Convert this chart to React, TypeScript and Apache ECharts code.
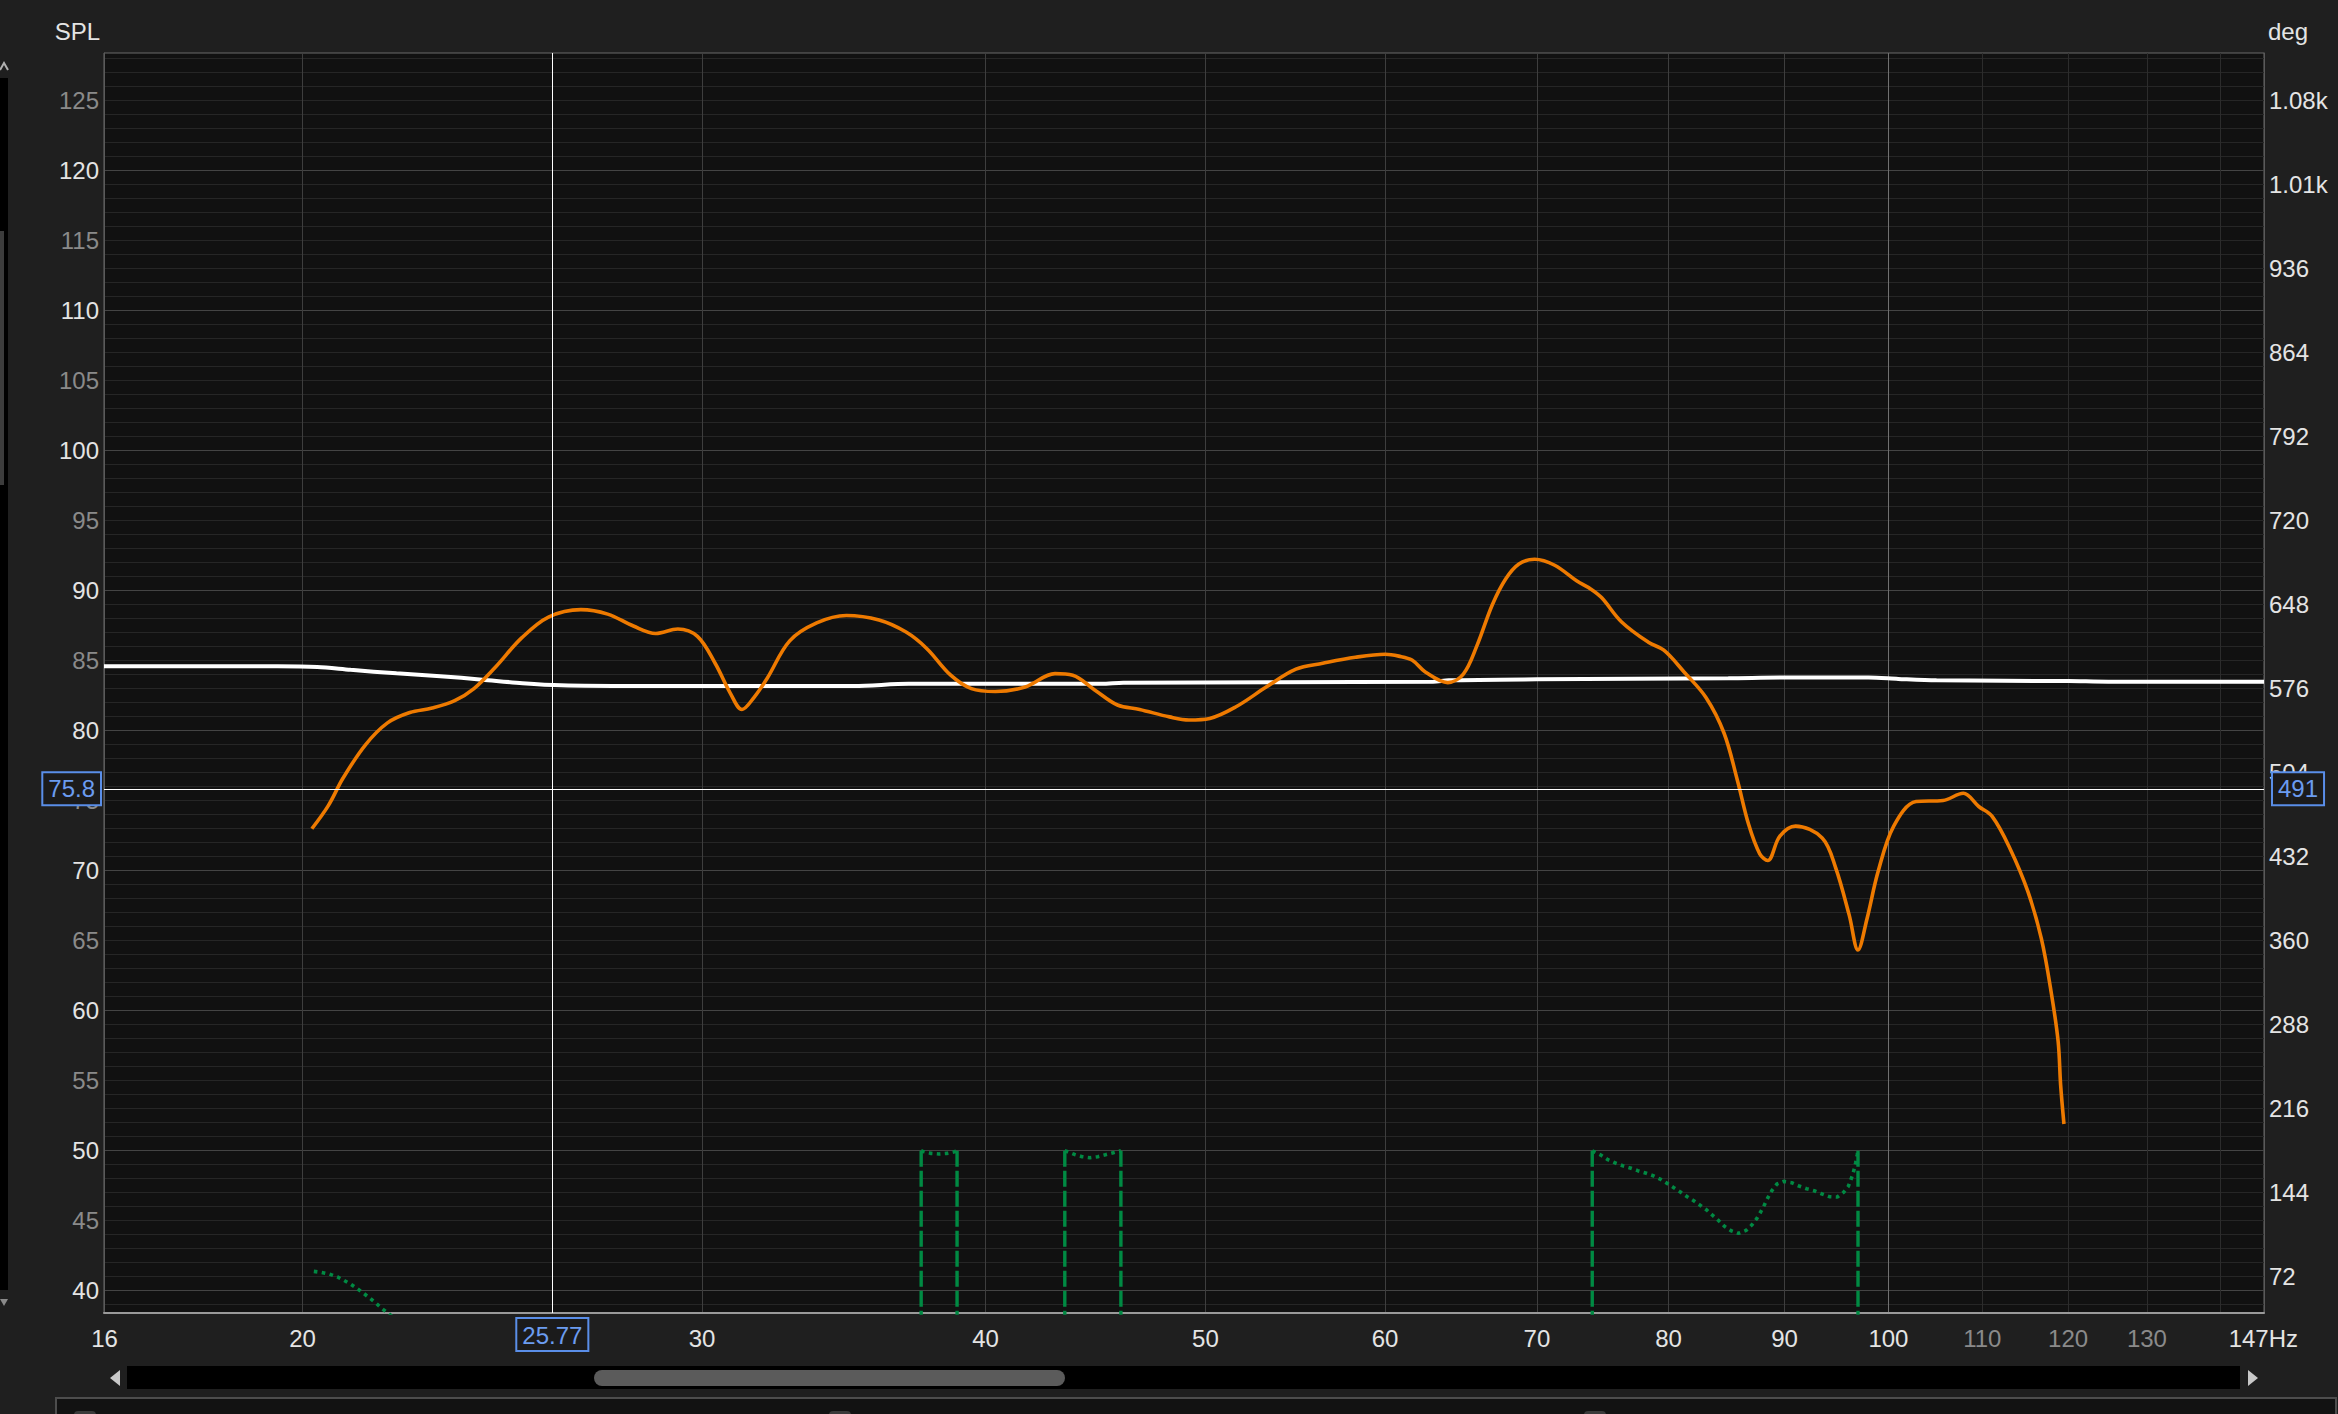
import React, { useEffect, useRef } from 'react';
import * as echarts from 'echarts';

// ---------- axes ----------
const X_MIN = 16.35;
const X_MAX = 146.4;
const Y_MIN = 38.36;
const Y_MAX = 128.36;
const DEG_MIN = 41;
const DEG_MAX = 1121;

const xGridHz = [20, 30, 40, 50, 60, 70, 80, 90, 100, 110, 120, 130, 140];
const xLabelHz = [16.36, 20, 30, 40, 50, 60, 70, 80, 90, 100, 110, 120, 130, 146.3];
const splLabels = [40, 45, 50, 55, 60, 65, 70, 75, 80, 85, 90, 95, 100, 105, 110, 115, 120, 125];
const degLabels = [72, 144, 216, 288, 360, 432, 504, 576, 648, 720, 792, 864, 936, 1008, 1080];

// ---------- cursor ----------
const cursorHz = 25.77;
const cursorDb = 75.8;
const cursorDegText = '491';

// ---------- SPL measurement (orange) ----------
const splFreq = [
  20.19, 20.53, 20.84, 21.31, 21.8, 22.3, 22.81, 23.34, 23.8, 24.31, 24.98, 25.67, 26.53, 27.26, 27.98,
  28.62, 29.27, 29.86, 30.4, 30.87, 31.24, 31.62, 32.05, 32.79, 33.7, 34.73, 35.9, 36.9, 37.68, 38.61,
  39.43, 40.4, 41.64, 42.92, 43.7, 44.7, 45.73, 46.77, 48.21, 49.17, 50.22, 51.6, 53.18, 54.81, 56.32,
  58.22, 60.01, 60.84, 61.66, 62.5, 63.94, 64.96, 65.85, 66.9, 67.81, 68.73, 69.84, 71.27, 72.9, 73.92,
  74.74, 76.28, 78.38, 79.62, 81.27, 83.11, 84.64, 85.8, 86.77, 87.76, 88.47, 89.57, 91.0, 93.5, 94.79,
  96.1, 96.96, 97.84, 98.96, 100.54, 102.85, 105.7, 107.9, 109.6, 111.1, 113.1, 115.2, 116.8, 118.0,
  118.8, 119.1, 119.5,
];
const splDb = [
  72.95, 74.6, 76.57, 78.91, 80.51, 81.25, 81.57, 82.1, 82.96, 84.45, 86.58, 88.07, 88.6, 88.28, 87.43,
  86.9, 87.22, 86.69, 84.77, 82.64, 81.47, 82.32, 83.7, 86.37, 87.65, 88.18, 87.86, 87.0, 85.83, 83.92,
  82.96, 82.75, 83.07, 84.03, 83.92, 82.85, 81.79, 81.47, 80.94, 80.72, 80.83, 81.68, 83.07, 84.35, 84.77,
  85.2, 85.41, 85.28, 85.0, 84.15, 83.39, 84.0, 85.99, 88.95, 90.79, 91.86, 92.2, 91.77, 90.64, 90.08,
  89.46, 87.72, 86.27, 85.7, 84.15, 82.31, 79.77, 76.38, 73.27, 71.16, 70.68, 72.43, 73.14, 72.29, 70.16,
  66.78, 64.29, 66.49, 69.89, 73.14, 74.89, 74.97, 75.48, 74.54, 73.83, 71.58, 68.47, 65.08, 61.13,
  57.74, 54.64, 51.86,
];

// ---------- second trace (white) ----------
const refFreq = [16.35, 19.5, 20.3, 21, 22, 23, 24, 25, 26, 28, 35, 37, 45, 46, 63, 64, 70, 85, 90, 98, 101, 105, 120, 125, 146.4];
const refDb = [84.55, 84.55, 84.5, 84.3, 84.05, 83.85, 83.6, 83.35, 83.2, 83.15, 83.15, 83.3, 83.3, 83.38, 83.45, 83.55, 83.62, 83.7, 83.75, 83.75, 83.65, 83.55, 83.5, 83.45, 83.45];

// ---------- phase (green, deg) ----------
const phaseSeg1 = [
  [20.23, 76.65], [20.39, 75.8], [20.55, 74.4], [20.72, 71.9], [20.86, 68.9], [21.01, 65.5],
  [21.15, 61.6], [21.29, 57.5], [21.42, 53.5], [21.56, 49.0], [21.69, 44.4], [21.82, 40.7], [21.95, 36.5],
];
const phaseSeg2 = [[37.47, 180], [37.54, 179.5], [37.85, 177.8], [38.16, 177.3], [38.46, 177.8], [38.76, 179.2], [38.86, 180]];
const phaseSeg3 = [
  [43.35, 180], [43.44, 179.5], [43.78, 176.9], [44.12, 175.0], [44.47, 174.1], [44.83, 175.0],
  [45.18, 176.7], [45.54, 178.4], [45.89, 180],
];
const phaseSeg4 = [
  [74.04, 180], [74.69, 176.4], [75.22, 172.4], [75.79, 169.6], [76.37, 167.2], [76.95, 165.3], [77.54, 163.0],
  [78.15, 161.0], [78.76, 158.7], [79.32, 155.8], [79.89, 152.1], [80.43, 148.4], [80.97, 144.7], [81.53, 140.7],
  [82.07, 137.2], [82.63, 133.2], [83.16, 129.3], [83.67, 124.6], [84.18, 120.1], [84.69, 115.2], [85.25, 111.5],
  [85.88, 109.2], [86.55, 111.8], [87.05, 116.4], [87.48, 121.8], [87.84, 127.6], [88.17, 133.6], [88.5, 140.1],
  [88.86, 146.1], [89.31, 151.6], [89.91, 153.8], [90.64, 152.7], [91.33, 149.8], [92.03, 147.5], [92.75, 145.8],
  [93.44, 143.2], [94.18, 140.7], [94.94, 140.4], [95.55, 144.4], [96.01, 149.5], [96.3, 156.1], [96.53, 162.4],
  [96.73, 169.6], [96.89, 176.7], [96.96, 180],
];
const phaseWrapHz = [37.47, 38.86, 43.35, 45.89, 74.04, 96.96];
const phaseWrapTop = 180;
const phaseWrapBottom = 20;

// ---------- styling ----------
const FONT = 'Liberation Sans, Arial, sans-serif';
const WHITE_TXT = '#e4e4e4';
const GRAY_TXT = '#8a8a8a';
const GREEN = '#008a43';
const ORANGE = '#ee7a00';
const BLUE_TXT = '#6b9cf0';
const BLUE_BOX = '#5a8ee8';

const dbGridValues: number[] = [];
for (let v = Math.ceil(Y_MIN); v <= Math.floor(Y_MAX); v++) dbGridValues.push(v);
const dbGridColors = dbGridValues.map((v) => (v % 10 === 0 ? '#444444' : '#262626'));
const xGridColors = xGridHz.map((v) => (v === 100 ? '#707070' : v > 100 ? '#2c2c2c' : '#3e3e3e'));

const cursorLabel = {
  color: BLUE_TXT,
  fontSize: 24,
  fontFamily: FONT,
  backgroundColor: '#1b1b1b',
  borderColor: BLUE_BOX,
  borderWidth: 2,
  padding: [4, 5, 3, 5],
};

export default function App() {
  const ref = useRef<HTMLDivElement>(null);

  useEffect(() => {
    if (!ref.current) return;
    const chart = echarts.init(ref.current, null, { renderer: 'svg' });

    const rich = {
      w: { color: WHITE_TXT, fontSize: 24, fontFamily: FONT },
      g: { color: GRAY_TXT, fontSize: 24, fontFamily: FONT },
    };

    const series: any[] = [
      {
        name: 'ref',
        type: 'line',
        yAxisIndex: 0,
        data: refFreq.map((f, i) => [f, refDb[i]]),
        showSymbol: false,
        smooth: 0.3,
        lineStyle: { color: '#ffffff', width: 4 },
        z: 3,
      },
      {
        name: 'SPL',
        type: 'line',
        yAxisIndex: 0,
        data: splFreq.map((f, i) => [f, splDb[i]]),
        showSymbol: false,
        smooth: 0.35,
        lineStyle: { color: ORANGE, width: 3.6 },
        z: 4,
        markLine: {
          silent: true,
          symbol: ['none', 'none'],
          animation: false,
          lineStyle: { color: '#ffffff', width: 1, type: 'solid' },
          emphasis: { disabled: true },
          data: [
            { xAxis: cursorHz, label: { ...cursorLabel, position: 'start', distance: 6, formatter: String(cursorHz) } },
            { yAxis: cursorDb, label: { ...cursorLabel, position: 'start', distance: 4, formatter: String(cursorDb) } },
            { yAxis: cursorDb, label: { ...cursorLabel, position: 'end', distance: 9, formatter: cursorDegText } },
          ],
        },
      },
    ];
    [phaseSeg1, phaseSeg2, phaseSeg3, phaseSeg4].forEach((seg, i) => {
      series.push({
        name: 'phase' + i,
        type: 'line',
        yAxisIndex: 1,
        data: seg,
        showSymbol: false,
        lineStyle: { color: GREEN, width: 3.6, type: [3.6, 4.4], cap: 'butt' },
        z: 3,
      });
    });
    phaseWrapHz.forEach((f, i) => {
      series.push({
        name: 'wrap' + i,
        type: 'line',
        yAxisIndex: 1,
        data: [[f, phaseWrapTop], [f, phaseWrapBottom]],
        showSymbol: false,
        lineStyle: { color: GREEN, width: 3.4, type: [16, 4], cap: 'butt' },
        z: 3,
      });
    });

    const option: any = {
      animation: false,
      backgroundColor: '#1f1f1f',
      textStyle: { fontFamily: FONT },
      grid: {
        left: 104,
        top: 53,
        width: 2160,
        height: 1260,
        show: true,
        backgroundColor: '#111111',
        borderColor: '#6a6a6a',
        borderWidth: 1,
        containLabel: false,
      },
      xAxis: {
        type: 'log',
        logBase: 10,
        min: X_MIN,
        max: X_MAX,
        axisLine: { show: true, onZero: false, lineStyle: { color: '#9a9a9a', width: 2 } },
        axisTick: { show: false, customValues: xGridHz },
        minorTick: { show: false },
        minorSplitLine: { show: false },
        splitLine: { show: true, lineStyle: { color: xGridColors, width: 1 } },
        axisLabel: {
          customValues: xLabelHz,
          margin: 13,
          fontSize: 24,
          fontFamily: FONT,
          formatter: (v: number) => {
            if (v < 17) return '{w|16}';
            if (v > 145) return '{w|147Hz}';
            const r = Math.round(v);
            return r > 100 ? `{g|${r}}` : `{w|${r}}`;
          },
          rich,
        },
      },
      yAxis: [
        {
          type: 'value',
          position: 'left',
          min: Y_MIN,
          max: Y_MAX,
          name: 'SPL',
          nameLocation: 'end',
          nameGap: 10,
          nameTextStyle: { color: WHITE_TXT, fontSize: 24, fontFamily: FONT, align: 'right', padding: [0, 4, 0, 0] },
          axisLine: { show: true, lineStyle: { color: '#5a5a5a', width: 1 } },
          axisTick: { show: false, customValues: dbGridValues },
          splitLine: { show: true, lineStyle: { color: dbGridColors, width: 1 } },
          axisLabel: {
            customValues: splLabels,
            margin: 5,
            fontSize: 24,
            fontFamily: FONT,
            formatter: (v: number) => (Math.round(v) % 10 === 0 ? `{w|${Math.round(v)}}` : `{g|${Math.round(v)}}`),
            rich,
          },
        },
        {
          type: 'value',
          position: 'right',
          min: DEG_MIN,
          max: DEG_MAX,
          name: 'deg',
          nameLocation: 'end',
          nameGap: 10,
          nameTextStyle: { color: WHITE_TXT, fontSize: 24, fontFamily: FONT, align: 'left', padding: [0, 0, 0, 4] },
          axisLine: { show: true, lineStyle: { color: '#5a5a5a', width: 1 } },
          axisTick: { show: false, customValues: degLabels },
          splitLine: { show: false },
          axisLabel: {
            customValues: degLabels,
            margin: 5,
            fontSize: 24,
            fontFamily: FONT,
            color: WHITE_TXT,
            formatter: (v: number) => (v >= 1000 ? (v / 1000).toFixed(2) + 'k' : String(Math.round(v))),
          },
        },
      ],
      series,
      graphic: [
        { type: 'rect', shape: { x: 0, y: 78, width: 8, height: 1212 }, style: { fill: '#000000' }, silent: true },
        { type: 'rect', shape: { x: 0, y: 231, width: 4, height: 254 }, style: { fill: '#3c3c3c' }, silent: true },
        { type: 'polyline', shape: { points: [[0, 70], [4, 63], [8, 70]] }, style: { stroke: '#b0b0b0', lineWidth: 2, fill: null }, silent: true },
        { type: 'polygon', shape: { points: [[0, 1299], [8, 1299], [4, 1306]] }, style: { fill: '#8a8a8a' }, silent: true },
        { type: 'rect', shape: { x: 127, y: 1366, width: 2113, height: 23 }, style: { fill: '#000000' }, silent: true },
        { type: 'rect', shape: { x: 594, y: 1370, width: 471, height: 16, r: 8 }, style: { fill: '#5b5b5b' }, silent: true },
        { type: 'polygon', shape: { points: [[110, 1378], [120, 1370], [120, 1386]] }, style: { fill: '#c8c8c8' }, silent: true },
        { type: 'polygon', shape: { points: [[2258, 1378], [2248, 1370], [2248, 1386]] }, style: { fill: '#c8c8c8' }, silent: true },
        { type: 'rect', shape: { x: 56, y: 1398, width: 2280, height: 30 }, style: { fill: '#121212', stroke: '#4d4d4d', lineWidth: 2 }, silent: true },
        { type: 'rect', shape: { x: 74, y: 1411, width: 22, height: 12, r: 4 }, style: { fill: '#3a3a3a' }, silent: true },
        { type: 'rect', shape: { x: 829, y: 1411, width: 22, height: 12, r: 4 }, style: { fill: '#3a3a3a' }, silent: true },
        { type: 'rect', shape: { x: 1584, y: 1411, width: 22, height: 12, r: 4 }, style: { fill: '#3a3a3a' }, silent: true },
      ],
    };

    chart.setOption(option);
    return () => chart.dispose();
  }, []);

  return (
    <div
      ref={ref}
      style={{ position: 'fixed', left: 0, top: 0, width: 2338, height: 1414, background: '#1f1f1f' }}
    />
  );
}
